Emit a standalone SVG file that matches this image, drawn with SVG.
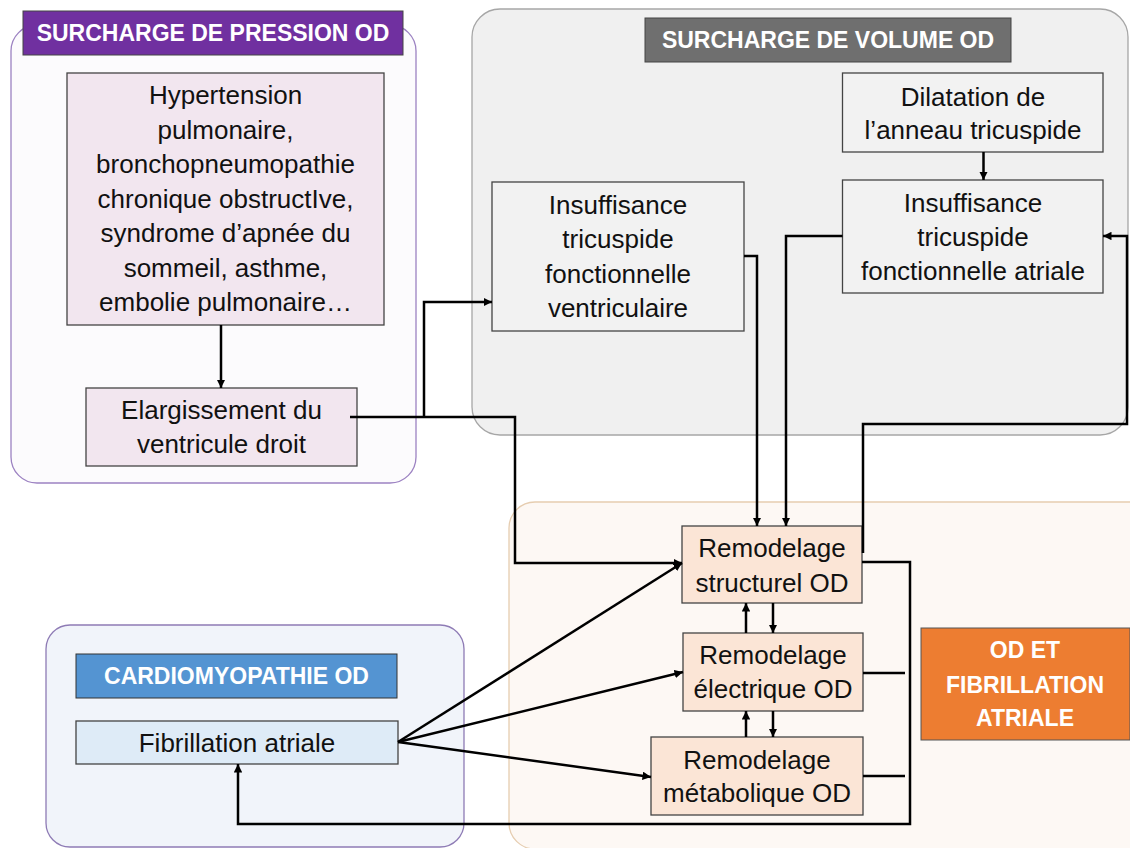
<svg xmlns="http://www.w3.org/2000/svg" width="1130" height="848" viewBox="0 0 1130 848">
<style>
text{font-family:"Liberation Sans",Arial,sans-serif;fill:#111;text-anchor:middle}
.t{font-size:26px}
.h{font-size:23px;font-weight:bold;fill:#fff}
.box{stroke:#444;stroke-width:1.3}
.pk{fill:#F2E6EF}
.gr{fill:#F2F2F2}
.rm{fill:#FBE5D6}
.bl{fill:#DEEBF7}
.c{fill:none;stroke:#000;stroke-width:2.5}
</style>
<defs>
<marker id="ah" viewBox="0 0 10 10" refX="10" refY="5" markerWidth="3.4" markerHeight="3.4" orient="auto" markerUnits="strokeWidth">
<path d="M0,0 L10,5 L0,10 z" fill="#000"/>
</marker>
</defs>
<rect width="1130" height="848" fill="#fff"/>
<g id="containers">
<rect x="11" y="25" width="405" height="458" rx="26" fill="#FCFBFD" stroke="#9C82C2" stroke-width="1.3"/>
<rect x="472" y="9" width="656" height="426" rx="28" fill="#F0F0F0" stroke="#A6A6A6" stroke-width="1.3"/>
<rect x="509" y="502" width="650" height="347" rx="26" fill="#FDF8F4" stroke="#E6CDB0" stroke-width="1.3"/>
<rect x="46" y="625" width="418" height="222" rx="24" fill="#F1F4FA" stroke="#8E7BB5" stroke-width="1.3"/>
</g>
<g id="hdr-pression">
<rect x="23" y="11" width="380" height="44" fill="#7030A0" stroke="#444" stroke-width="1"/>
<text class="h" x="213" y="41">SURCHARGE DE PRESSION OD</text>
</g>
<g id="hdr-volume">
<rect x="645" y="18" width="366" height="44" fill="#6F6F6F" stroke="#444" stroke-width="1"/>
<text class="h" x="828" y="48">SURCHARGE DE VOLUME OD</text>
</g>
<g id="hdr-cardio">
<rect x="76" y="654" width="321" height="44" fill="#5494D2" stroke="#333" stroke-width="1"/>
<text class="h" x="236.5" y="684">CARDIOMYOPATHIE OD</text>
</g>
<g id="hdr-fa">
<rect x="921" y="628" width="209" height="112" fill="#ED7D31" stroke="#555" stroke-width="1"/>
<text class="h" x="1025" y="658">OD ET</text>
<text class="h" x="1025" y="693">FIBRILLATION</text>
<text class="h" x="1025" y="726">ATRIALE</text>
</g>
<g id="causes">
<rect class="box pk" x="67" y="73" width="317" height="252"/>
<text class="t" x="225.5" y="104">Hypertension</text>
<text class="t" x="225.5" y="138.5">pulmonaire,</text>
<text class="t" x="225.5" y="173">bronchopneumopathie</text>
<text class="t" x="225.5" y="207.5">chronique obstructIve,</text>
<text class="t" x="225.5" y="242">syndrome d’apnée du</text>
<text class="t" x="225.5" y="276.5">sommeil, asthme,</text>
<text class="t" x="225.5" y="311">embolie pulmonaire…</text>
</g>
<g id="elargissement">
<rect class="box pk" x="86" y="388" width="271" height="78"/>
<text class="t" x="221.5" y="419">Elargissement du</text>
<text class="t" x="221.5" y="453">ventricule droit</text>
</g>
<g id="itv">
<rect class="box gr" x="492" y="182" width="252" height="149"/>
<text class="t" x="618" y="214">Insuffisance</text>
<text class="t" x="618" y="248">tricuspide</text>
<text class="t" x="618" y="283">fonctionnelle</text>
<text class="t" x="618" y="317">ventriculaire</text>
</g>
<g id="dilatation">
<rect class="box gr" x="842.5" y="73" width="260.5" height="79"/>
<text class="t" x="973" y="106">Dilatation de</text>
<text class="t" x="973" y="139">l’anneau tricuspide</text>
</g>
<g id="ita">
<rect class="box gr" x="842.5" y="180" width="260.5" height="113"/>
<text class="t" x="973" y="212">Insuffisance</text>
<text class="t" x="973" y="246">tricuspide</text>
<text class="t" x="973" y="280">fonctionnelle atriale</text>
</g>
<g id="structurel">
<rect class="box rm" x="682" y="526" width="180" height="77"/>
<text class="t" x="772" y="557">Remodelage</text>
<text class="t" x="772" y="592">structurel OD</text>
</g>
<g id="electrique">
<rect class="box rm" x="683" y="633" width="180" height="78"/>
<text class="t" x="773" y="664">Remodelage</text>
<text class="t" x="773" y="698">électrique OD</text>
</g>
<g id="metabolique">
<rect class="box rm" x="651" y="737" width="212" height="78"/>
<text class="t" x="757" y="769">Remodelage</text>
<text class="t" x="757" y="802">métabolique OD</text>
</g>
<g id="fibrillation">
<rect class="box bl" x="76" y="721" width="322" height="43"/>
<text class="t" x="237" y="752">Fibrillation atriale</text>
</g>
<g id="connectors">
<path class="c" d="M221 325 V388" marker-end="url(#ah)"/>
<path class="c" d="M424 417 V302 H492" marker-end="url(#ah)"/>
<path class="c" d="M350 417 H515 V563 H682" marker-end="url(#ah)"/>
<path class="c" d="M983.5 152 V180" marker-end="url(#ah)"/>
<path class="c" d="M744 256 H757 V526" marker-end="url(#ah)"/>
<path class="c" d="M842.5 236 H786 V526" marker-end="url(#ah)"/>
<path class="c" d="M863 553 V424 H1127 V236 H1103" marker-end="url(#ah)"/>
<path class="c" d="M862 562 H910 V824 H238 V764" marker-end="url(#ah)"/>
<path class="c" d="M863 673 H905"/>
<path class="c" d="M863 776 H905"/>
<path class="c" d="M398 742 L682 563" marker-end="url(#ah)"/>
<path class="c" d="M398 742 L683 672" marker-end="url(#ah)"/>
<path class="c" d="M398 742 L651 777" marker-end="url(#ah)"/>
<path class="c" d="M746 633 V603" marker-end="url(#ah)"/>
<path class="c" d="M773 603 V633" marker-end="url(#ah)"/>
<path class="c" d="M746 737 V711" marker-end="url(#ah)"/>
<path class="c" d="M773 711 V737" marker-end="url(#ah)"/>
</g>
</svg>
